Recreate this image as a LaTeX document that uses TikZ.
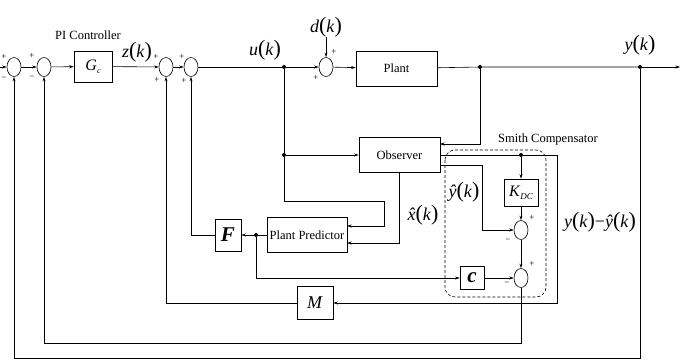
\documentclass[tikz,border=0pt]{standalone}
\usepackage{fontspec}
\setmainfont{Liberation Serif}
\usetikzlibrary{shapes.geometric,arrows.meta,calc}
\newcommand{\bigp}[1]{{\fontsize{22}{22}\selectfont#1}}
\newcommand{\fnk}[1]{#1\bigp{(}\textit{k}\bigp{)}}
\newcommand{\xhat}{\textit{x}\llap{\raisebox{0pt}{\makebox[0.42em][c]{\textit{\char"02C6}}}}}
\begin{document}
\begin{tikzpicture}[x=1pt,y=-1pt,
  ln/.style={line width=0.6pt},
  arr/.style={ln,-{Stealth[length=4.5pt,width=3pt]}},
  sumj/.style={ellipse,draw,line width=0.6pt,minimum width=14pt,minimum height=19pt,inner sep=0pt},
  blk/.style={draw,line width=0.6pt,rectangle,inner sep=0pt,font=\fontsize{12.5}{13}\selectfont},
  sig/.style={inner sep=0pt,font=\fontsize{18}{18}\selectfont},
  sgn/.style={inner sep=0pt,font=\fontsize{9}{9}\selectfont},
  lbl/.style={inner sep=0pt,font=\fontsize{12.5}{13}\selectfont},
  jdot/.style={circle,fill,inner sep=0pt,minimum size=4pt}]
\useasboundingbox (0,0) rectangle (699,361);

% summing junctions
\node[sumj] (S1) at (14,67) {};
\node[sumj] (S2) at (44,67) {};
\node[sumj] (S3) at (166,67) {};
\node[sumj] (S4) at (191,67) {};
\node[sumj] (S5) at (326,67) {};
\node[sumj] (S6) at (521,230) {};
\node[sumj] (S7) at (521,278) {};

% blocks
\node[blk,minimum width=38pt,minimum height=31pt] (Gc) at (93,66.5) {\fontsize{16}{16}\selectfont\textit{G}\raisebox{-3pt}{\fontsize{8}{8}\selectfont\textit{c}}};
\node[blk,minimum width=81pt,minimum height=35pt] (Plant) at (396.5,68.5) {Plant};
\node[blk,minimum width=81pt,minimum height=35pt] (Observer) at (399.5,155) {Observer};
\node[blk,minimum width=34pt,minimum height=27pt] (KDC) at (521,192.5) {\fontsize{16}{16}\selectfont\textit{K}\raisebox{-3pt}{\fontsize{9}{9}\selectfont\textit{DC}}};
\node[blk,minimum width=24pt,minimum height=23pt] (c) at (472,278) {\fontsize{21}{21}\selectfont\textbf{\textit{c}}};
\node[blk,minimum width=26pt,minimum height=32pt] (F) at (228,235) {\fontsize{21}{21}\selectfont\textbf{\textit{F}}};
\node[blk,minimum width=80pt,minimum height=35pt] (PP) at (307,235) {Plant Predictor};
\node[blk,minimum width=36pt,minimum height=33pt] (M) at (315,303) {\fontsize{18}{18}\selectfont\textit{M}};

% junction dots
\node[jdot] (uD) at (284,67) {};
\node[jdot] (uD2) at (284,155) {};
\node[jdot] (yA) at (480,67) {};
\node[jdot] (yB) at (640,67) {};
\node[jdot] (kD) at (521,155) {};
\node[jdot] (pD) at (256,235) {};

% route coordinates
\coordinate (in) at (0,67);
\coordinate (yend) at (680,67);
\coordinate (obR1) at (440,144);
\coordinate (uB) at (284,201);
\coordinate (uC) at (384,201);
\coordinate (ppR1) at (347,226);
\coordinate (ppR2) at (347,243);
\coordinate (rC) at (557,155);
\coordinate (obO2) at (440,165);
\coordinate (yh) at (482,165);
\coordinate (b1) at (521,343);
\coordinate (b2) at (640,358);

% text labels
\node[lbl] (pic) at (88,35) {PI Controller};
\node[lbl] (smc) at (548,139) {Smith Compensator};
\node[sig] (zL) at (137,52) {\fnk{\textit{z}}};
\node[sig] (uL) at (265,50) {\fnk{\textit{u}}};
\node[sig] (dL) at (326,27) {\fnk{\textit{d}}};
\node[sig] (yL) at (640,45) {\fnk{\textit{y}}};
\node[sig] (yhL) at (464,192) {\fnk{\textit{ŷ}}};
\node[sig] (xhL) at (423,215) {\fnk{\xhat}};
\node[sig] (eL) at (600,222) {\fnk{\textit{y}}−\fnk{\textit{ŷ}}};

% signs
\node[sgn] (g1) at (4,57) {+};
\node[sgn] (g2) at (4,79) {−};
\node[sgn] (g3) at (32,56) {+};
\node[sgn] (g4) at (32,78) {−};
\node[sgn] (g5) at (156,57) {+};
\node[sgn] (g6) at (157,80) {+};
\node[sgn] (g7) at (182,57) {+};
\node[sgn] (g8) at (184,81) {+};
\node[sgn] (g9) at (334,52) {+};
\node[sgn] (g10) at (316,78) {+};
\node[sgn] (g11) at (532,218) {+};
\node[sgn] (g12) at (508,241) {−};
\node[sgn] (g13) at (532,264) {+};
\node[sgn] (g14) at (507,284) {−};

% dashed Smith compensator frame
\draw[ln,dashed,dash pattern=on 3pt off 2pt,rounded corners=10pt] (445,150) rectangle (546,297);

% connectors
\draw[arr] (in) -- (S1);
\draw[arr] (S1) -- (S2);
\draw[arr] (S2) -- (Gc);
\draw[arr] (Gc) -- (S3);
\draw[arr] (S3) -- (S4);
\draw[ln] (S4) -- (uD);
\draw[arr] (uD) -- (S5);
\draw[arr] (S5) -- (Plant);
\draw[arr] (dL.south) -- (S5.north);
\draw[ln] (Plant) -- (yA) -- (yB);
\draw[arr] (yB) -- (yend);
\draw[arr] (yA) |- (obR1);
\draw[ln] (uD) -- (uD2);
\draw[arr] (uD2) -- (Observer);
\draw[arr] (uD2) -- (uB) -- (uC) |- (ppR1);
\draw[arr] (Observer.south) |- (ppR2);
\draw[ln] (Observer.east) -- (kD);
\draw[arr] (kD) -- (rC) |- (M);
\draw[arr] (kD) -- (KDC);
\draw[arr] (obO2) -- (yh) |- (S6);
\draw[arr] (KDC) -- (S6);
\draw[arr] (S6) -- (S7);
\draw[ln] (PP) -- (pD);
\draw[arr] (pD) -- (F);
\draw[arr] (pD) |- (c);
\draw[arr] (c) -- (S7);
\draw[arr] (F) -| (S4);
\draw[arr] (M) -| (S3);
\draw[arr] (S7) -- (b1) -| (S2);
\draw[arr] (yB) -- (b2) -| (S1);
\end{tikzpicture}
\end{document}
